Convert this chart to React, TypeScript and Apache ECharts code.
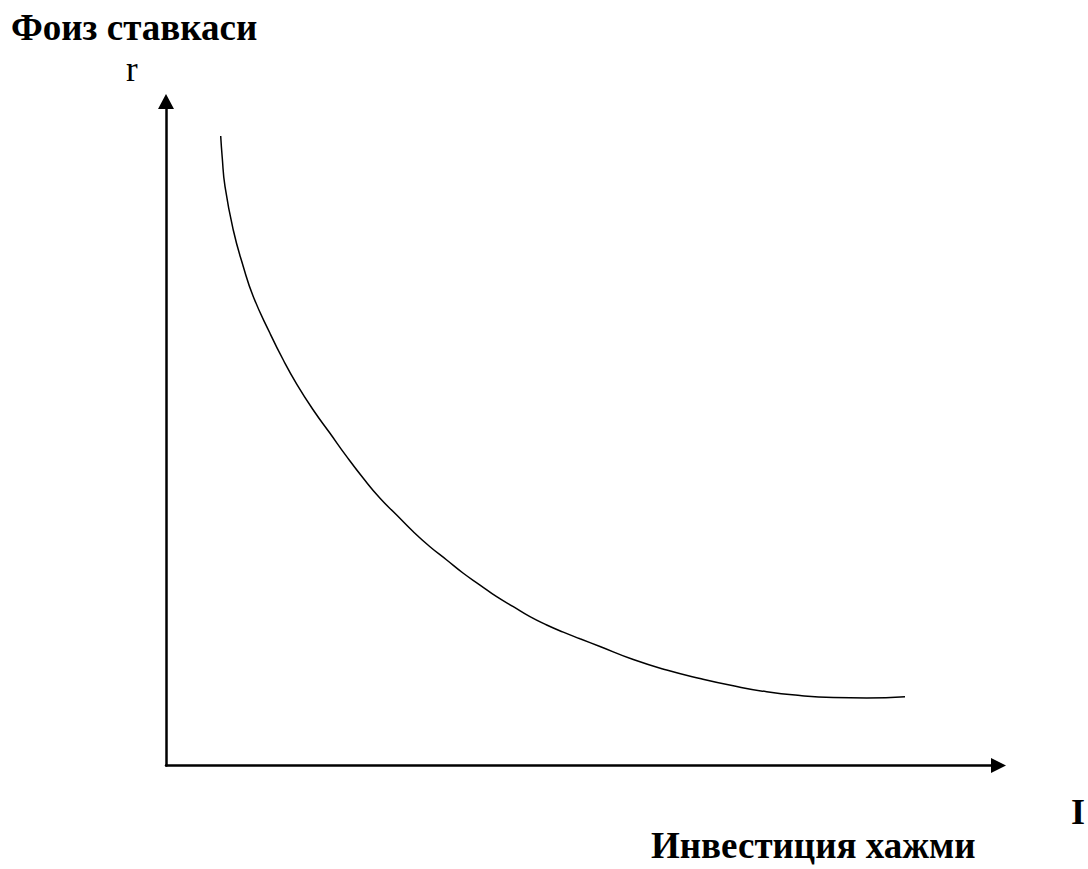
import React, { useEffect, useRef } from "react";
import * as echarts from "echarts";

// Investment volume (I) positions along the curve, in axis units (0–100)
const investment = [
  6.57, 6.75, 7.09, 8.08, 9.29, 10.49, 12.49, 14.09, 15.7, 17.69, 19.7, 21.71,
  23.7, 25.71, 27.71, 29.71, 31.71, 33.72, 35.71, 37.72, 39.72, 41.72, 43.72,
  45.73, 47.72, 49.73, 52.13, 56.13, 60.14, 64.14, 68.14, 72.16, 76.16, 80.16,
  84.17, 88.77,
];
// Interest rate (r) values along the curve, in axis units (0–100)
const rate = [
  94.8, 91.64, 87.17, 80.65, 75.12, 70.6, 65.09, 61.07, 57.45, 53.54, 50.03,
  46.51, 43.25, 40.24, 37.73, 35.21, 32.95, 30.95, 28.95, 27.18, 25.42, 23.92,
  22.41, 21.16, 20.08, 19.08, 17.92, 15.96, 14.38, 13.1, 12.0, 11.1, 10.54,
  10.24, 10.17, 10.36,
];

const yTitle = "Фоиз ставкаси";
const yName = "r";
const xName = "I";
const xTitle = "Инвестиция хажми";

const FONT = "'Liberation Serif', 'Times New Roman', serif";

export default function App() {
  const ref = useRef<HTMLDivElement | null>(null);

  useEffect(() => {
    if (!ref.current) return;
    const chart = echarts.init(ref.current, undefined, { renderer: "svg" });
    const data = investment.map((x, i) => [x, rate[i]]);
    chart.setOption({
      animation: false,
      backgroundColor: "#ffffff",
      grid: { left: 166, right: 89.5, top: 101.5, bottom: 103.5 },
      xAxis: {
        type: "value",
        min: 0,
        max: 100,
        axisLine: {
          show: true,
          onZero: false,
          symbol: ["none", "triangle"],
          symbolSize: [15, 15],
          lineStyle: { color: "#000", width: 2.5 },
        },
        axisTick: { show: false },
        axisLabel: { show: false },
        splitLine: { show: false },
      },
      yAxis: {
        type: "value",
        min: 0,
        max: 100,
        axisLine: {
          show: true,
          onZero: false,
          symbol: ["none", "triangle"],
          symbolSize: [16, 15],
          lineStyle: { color: "#000", width: 2.5 },
        },
        axisTick: { show: false },
        axisLabel: { show: false },
        splitLine: { show: false },
      },
      series: [
        {
          type: "line",
          data,
          smooth: true,
          showSymbol: false,
          symbol: "none",
          lineStyle: { color: "#000", width: 1.5 },
        },
      ],
      graphic: [
        {
          type: "text",
          left: 11,
          top: 9,
          style: { text: yTitle, font: `bold 37px ${FONT}`, fill: "#000" },
        },
        {
          type: "text",
          left: 126,
          top: 52,
          style: { text: yName, font: `35px ${FONT}`, fill: "#000" },
        },
        {
          type: "text",
          left: 1071,
          top: 794,
          style: { text: xName, font: `bold 36px ${FONT}`, fill: "#000" },
        },
        {
          type: "text",
          left: 651,
          top: 827,
          style: { text: xTitle, font: `bold 37px ${FONT}`, fill: "#000" },
        },
      ],
    });
    return () => chart.dispose();
  }, []);

  return (
    <div
      ref={ref}
      style={{
        position: "fixed",
        left: 0,
        top: 0,
        width: 1088,
        height: 869,
        background: "#fff",
      }}
    />
  );
}
